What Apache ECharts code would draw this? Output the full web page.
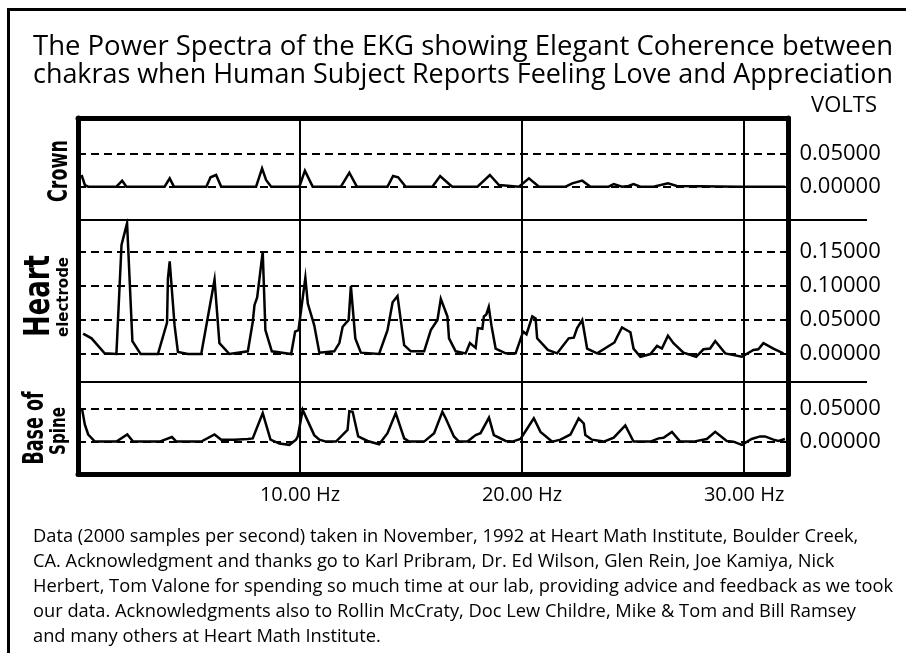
<!DOCTYPE html>
<html><head><meta charset="utf-8">
<script src="https://cdn.jsdelivr.net/npm/echarts@6/dist/echarts.min.js"></script>
<style>html,body{margin:0;padding:0;background:#fff}#c{width:906px;height:653px}</style>
</head><body><div id="c"></div>
<script>
// ---------------- DATA ----------------
const crownHz = [0.16,0.31,0.46,1.73,1.99,2.18,3.90,4.13,4.32,5.78,5.97,6.22,6.45,8.02,8.29,8.47,8.70,9.97,10.22,10.57,11.84,12.22,12.56,13.94,14.19,14.42,14.76,15.96,16.31,16.71,16.86,17.99,18.55,18.96,19.86,20.31,20.76,21.96,22.26,22.71,23.08,23.90,24.13,24.50,24.80,25.02,25.33,25.92,26.57,26.97,29.82,31.84];
const crownV  = [0.0175,0.0025,0,0,0.009,0,0,0.0125,0,0,0.014,0.0175,0,0,0.0275,0.010,0,0,0.024,0,0,0.021,0,0,0.016,0.014,0,0,0.016,0.004,0,0,0.0175,0.0025,0,0.0125,0,0,0.005,0.009,0,0,0.004,0,0.001,0.004,0,0,0.005,0.001,0,0];

const heartHz = [0.23,0.61,1.20,1.73,1.96,2.21,2.45,2.82,3.60,4.01,4.05,4.13,4.35,4.50,4.95,5.55,6.15,6.37,6.82,7.65,7.87,7.95,8.07,8.32,8.44,8.73,9.60,9.78,9.93,10.24,10.35,10.64,10.87,11.54,11.77,11.92,12.19,12.29,12.49,12.74,13.56,13.94,14.17,14.39,14.69,14.99,15.59,15.89,16.19,16.34,16.64,16.71,17.01,17.46,17.65,17.91,18.01,18.21,18.28,18.39,18.50,18.62,18.81,19.26,19.71,20.05,20.20,20.46,20.61,20.68,21.16,21.58,22.10,22.33,22.48,22.71,22.93,23.38,24.16,24.28,24.50,24.88,25.02,25.33,25.78,26.08,26.30,26.57,26.82,27.27,27.84,28.17,28.47,28.70,29.15,29.90,30.42,30.64,30.87,31.32,31.77];
const heartV  = [0.030,0.023,0.001,0,0.160,0.192,0.019,0,0,0.046,0.111,0.136,0.042,0.003,0,0,0.109,0.016,0,0.004,0.047,0.072,0.083,0.150,0.035,0.004,0,0.033,0.035,0.112,0.074,0.042,0.002,0.004,0.016,0.040,0.050,0.100,0.023,0.002,0,0.035,0.076,0.085,0.013,0.004,0.004,0.035,0.050,0.081,0.055,0.023,0.004,0.001,0.016,0.009,0.038,0.037,0.055,0.058,0.069,0.042,0.008,0.001,0.001,0.033,0.029,0.055,0.052,0.023,0.006,0.001,0.023,0.024,0.038,0.050,0.008,0.001,0.017,0.025,0.039,0.032,0.008,-0.004,0,0.012,0.008,0.027,0.016,0.002,-0.004,0.007,0.008,0.019,0.001,-0.004,0.006,0.007,0.016,0.008,0.001];

const baseHz = [0.19,0.31,0.46,0.76,1.73,2.22,2.48,3.68,4.23,4.43,5.55,6.15,6.45,7.05,7.65,7.87,8.32,8.67,9.07,9.52,9.82,9.90,10.12,10.64,10.87,11.17,11.62,12.14,12.22,12.37,12.62,13.04,13.56,13.94,14.31,14.69,14.91,15.59,16.04,16.41,16.56,16.93,17.16,17.54,17.91,18.13,18.51,18.73,19.26,19.56,19.93,20.53,20.83,21.36,21.73,22.18,22.55,22.78,22.85,23.15,23.68,24.13,24.65,25.02,25.78,26.15,26.37,26.75,27.12,27.72,28.32,28.70,29.22,29.52,29.90,30.34,30.72,30.94,31.32,31.55,31.84];
const baseV  = [0.049,0.026,0.011,0,0,0.011,0,0,0.007,0,0,0.011,0.003,0.003,0.004,0.005,0.044,0.003,-0.003,-0.005,0.003,0.008,0.049,0.010,0.003,0,0,0.018,0.047,0.046,0.008,0.001,-0.004,0.013,0.044,0.005,0,0,0.013,0.046,0.036,0.008,0,0,0.010,0.013,0.037,0.010,0.001,0,0.004,0.036,0.015,0,0.003,0.011,0.036,0.028,0.010,0.003,0,0.006,0.025,0,0,0.005,0.006,0.015,0,0,0.004,0.015,0.001,0,-0.005,0.004,0.008,0.008,0.003,0.001,0.004];

const freqTicks = [10, 20, 30];
const freqTickLabels = ['10.00 Hz', '20.00 Hz', '30.00 Hz'];
const crownTicks = [0, 0.05];
const heartTicks = [0, 0.05, 0.10, 0.15];
const baseTicks = [0, 0.05];
const unitLabel = 'VOLTS';
const panelLabels = ['Crown', 'Heart', 'electrode', 'Base of', 'Spine'];
const titleLines = [
  'The Power Spectra of the EKG showing Elegant Coherence between',
  'chakras when Human Subject Reports Feeling Love and Appreciation'
];
const noteLines = [
  'Data (2000 samples per second) taken in November, 1992 at Heart Math Institute, Boulder Creek,',
  'CA. Acknowledgment and thanks go to Karl Pribram, Dr. Ed Wilson, Glen Rein, Joe Kamiya, Nick',
  'Herbert, Tom Valone for spending so much time at our lab, providing advice and feedback as we took',
  'our data. Acknowledgments also to Rollin McCraty, Doc Lew Childre, Mike & Tom and Bill Ramsey',
  'and many others at Heart Math Institute.'
];

// ---------------- LAYOUT ----------------
const FONT = '"Open Sans", "DejaVu Sans", sans-serif';
const LBL_FONT = '"DejaVu Sans", sans-serif';
const LEFT = 78, RIGHT_X = 788.5, SEP_END = 867;
const panels = [
  {top: 118, h: 102, min: -0.05, max: 0.103, ticks: crownTicks, hz: crownHz, v: crownV},
  {top: 220, h: 162, min: -0.041, max: 0.1965, ticks: heartTicks, hz: heartHz, v: heartV},
  {top: 382, h: 92, min: -0.05, max: 0.092, ticks: baseTicks, hz: baseHz, v: baseV}
];

const mctx = document.createElement('canvas').getContext('2d');
function textW(text, font) { mctx.font = font; return mctx.measureText(text).width; }

const TITLE_FONT = '27px ' + FONT;
const NOTE_FONT = '18px ' + FONT;
const noteScale = 860 / textW(noteLines[2], NOTE_FONT);

const chart = echarts.init(document.getElementById('c'), null, {renderer: 'canvas'});
const grids = [], xAxes = [], yAxes = [], series = [];
const thick = {color: '#000', width: 5};
panels.forEach((p, i) => {
  grids.push({left: LEFT, width: RIGHT_X - LEFT, top: p.top, height: p.h, containLabel: false});
  xAxes.push({
    gridIndex: i, type: 'value', min: 0, max: 32, interval: 10,
    position: i === 0 ? 'top' : 'bottom',
    axisLine: {show: i !== 1, onZero: false, lineStyle: thick},
    axisTick: {show: false},
    axisLabel: i === 2 ? {
      show: true, customValues: freqTicks, margin: 11,
      formatter: v => freqTickLabels[freqTicks.findIndex(t => Math.abs(t - v) < 1e-6)] || '',
      fontSize: 20, color: '#000', fontFamily: FONT
    } : {show: false},
    splitLine: {show: true, lineStyle: {color: '#000', width: 2, type: 'solid'}}
  });
  yAxes.push({
    gridIndex: i, type: 'value', position: 'left', min: p.min, max: p.max,
    axisLine: {show: true, onZero: false, lineStyle: thick},
    axisTick: {show: false}, axisLabel: {show: false}, splitLine: {show: false}
  });
  yAxes.push({
    gridIndex: i, type: 'value', position: 'right', min: p.min, max: p.max,
    axisLine: {show: true, onZero: false, lineStyle: thick},
    axisTick: {show: false}, splitLine: {show: false},
    axisLabel: {show: true, customValues: p.ticks, margin: 11, fontSize: 22, color: '#000',
      fontFamily: FONT, formatter: v => v.toFixed(5)}
  });
  series.push({
    type: 'line', xAxisIndex: i, yAxisIndex: 2 * i + 1,
    data: p.hz.map((f, k) => [f, p.v[k]]),
    showSymbol: false, symbol: 'none', animation: false, z: 5,
    lineStyle: {color: '#000', width: 2.5, join: 'miter'},
    markLine: {
      silent: true, symbol: ['none', 'none'], label: {show: false}, animation: false,
      lineStyle: {color: '#000', width: 2, type: [8, 5]},
      data: p.ticks.map(t => ({yAxis: t}))
    }
  });
});

function rotLabel(text, cx, cy, size, len) {
  const font = 'bold ' + size + 'px ' + LBL_FONT;
  const s = len / textW(text, font);
  return {type: 'text', x: cx, y: cy, rotation: Math.PI / 2, scaleX: s, z: 10,
    style: {text: text, font: font, fill: '#000', align: 'center', verticalAlign: 'middle'}};
}

const graphic = [
  {type: 'polyline', shape: {points: [[8.5, 653], [8.5, 9.5], [906, 9.5]]}, style: {stroke: '#000', lineWidth: 3, fill: null}, z: 10},
  {type: 'line', shape: {x1: LEFT, y1: panels[1].top, x2: SEP_END, y2: panels[1].top}, style: {stroke: '#000', lineWidth: 2}, z: 10},
  {type: 'line', shape: {x1: LEFT, y1: panels[2].top, x2: SEP_END, y2: panels[2].top}, style: {stroke: '#000', lineWidth: 2}, z: 10},
  {type: 'text', x: 844, y: 106, z: 10, style: {text: unitLabel, font: '22px ' + FONT, fill: '#000', align: 'center', verticalAlign: 'middle'}},
  rotLabel(panelLabels[0], 60, 171, 27, 62),
  rotLabel(panelLabels[1], 40, 296, 36, 82),
  rotLabel(panelLabels[2], 64, 297, 16, 80),
  rotLabel(panelLabels[3], 36, 428, 28, 73),
  rotLabel(panelLabels[4], 59, 431, 22, 48)
];
titleLines.forEach((t, k) => graphic.push({type: 'text', x: 33, y: 47 + 28 * k, z: 10,
  scaleX: 860 / textW(t, TITLE_FONT),
  style: {text: t, font: TITLE_FONT, fill: '#000', align: 'left', verticalAlign: 'middle'}}));
noteLines.forEach((t, k) => graphic.push({type: 'text', x: 33, y: 537 + 25 * k, z: 10,
  scaleX: noteScale,
  style: {text: t, font: NOTE_FONT, fill: '#000', align: 'left', verticalAlign: 'middle'}}));

chart.setOption({
  backgroundColor: '#fff', animation: false,
  grid: grids, xAxis: xAxes, yAxis: yAxes, series: series, graphic: graphic
});
</script></body></html>
